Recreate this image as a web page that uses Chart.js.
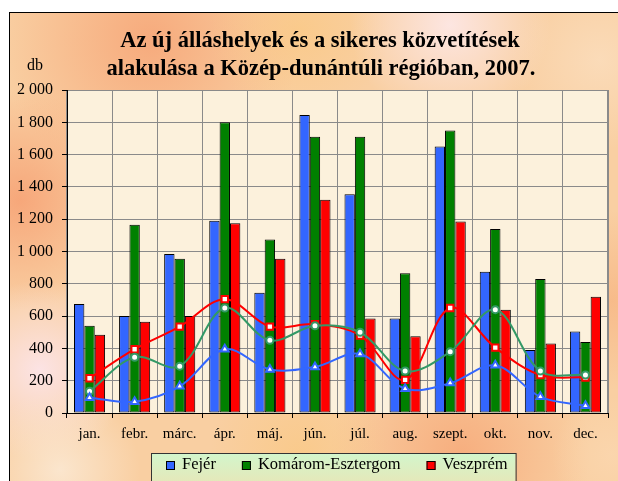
<!DOCTYPE html>
<html lang="hu">
<head>
<meta charset="utf-8">
<title>Az új álláshelyek és a sikeres közvetítések, 2007</title>
<script src="https://cdn.jsdelivr.net/npm/chart.js@4/dist/chart.umd.min.js"></script>
<style>
  html, body { margin: 0; padding: 0; background: #fff; }
  canvas { display: block; }
</style>
</head>
<body>
<canvas id="myChart" width="618" height="481"></canvas>
<script>
  // chart data
  const months = ['jan.', 'febr.', 'márc.', 'ápr.', 'máj.', 'jún.', 'júl.', 'aug.', 'szept.', 'okt.', 'nov.', 'dec.'];

  // new vacancies (bars)
  const fejer = [675, 600, 985, 1190, 745, 1845, 1355, 585, 1650, 875, 390, 505];
  const komarom = [540, 1165, 955, 1800, 1075, 1710, 1710, 865, 1750, 1140, 830, 440];
  const veszprem = [485, 565, 600, 1175, 955, 1320, 585, 475, 1185, 640, 430, 720];

  // successful placements (lines)
  const fejerLine = [95, 70, 165, 395, 270, 285, 365, 150, 185, 295, 100, 45];
  const komaromLine = [135, 345, 290, 650, 450, 540, 500, 260, 380, 640, 260, 235];
  const veszpremLine = [215, 395, 535, 705, 535, 550, 480, 205, 650, 405, 235, 220];

  const titleLines = ['Az új álláshelyek és a sikeres közvetítések', 'alakulása a Közép-dunántúli régióban, 2007.'];
  const unitLabel = 'db';

  const SERIF = "'Liberation Serif', 'Times New Roman', serif";

  // thousands with a space: 2 000
  const fmt = (v) => v >= 1000 ? Math.floor(v / 1000) + ' ' + String(v % 1000).padStart(3, '0') : String(v);

  /**
   * Background: textured frame, plot area, title, unit label
   */
  const backdrop = {
    id: 'backdrop',
    beforeDraw(chart) {
      const ctx = chart.ctx;
      const W = chart.width, H = chart.height;
      const area = chart.chartArea;
      ctx.save();
      ctx.fillStyle = '#ffffff';
      ctx.fillRect(0, 0, W, H);

      // warm frame fill
      const fx = 9, fy = 12;
      ctx.fillStyle = '#f9cfa2';
      ctx.fillRect(fx, fy, W - fx, H - fy);
      const blobs = [
        [150, 40, 150, 'rgba(246,164,118,0.85)'],
        [300, 30, 90, 'rgba(250,200,130,0.7)'],
        [450, 25, 100, 'rgba(253,232,232,0.9)'],
        [600, 60, 90, 'rgba(251,222,190,0.8)'],
        [20, 200, 110, 'rgba(246,160,115,0.85)'],
        [40, 370, 90, 'rgba(252,228,232,0.95)'],
        [60, 470, 80, 'rgba(251,232,210,0.9)'],
        [460, 455, 130, 'rgba(246,168,120,0.85)'],
        [300, 455, 90, 'rgba(250,200,130,0.7)'],
        [612, 300, 90, 'rgba(247,182,132,0.8)'],
        [612, 455, 60, 'rgba(251,215,175,0.8)']
      ];
      blobs.forEach(([x, y, r, c]) => {
        const g = ctx.createRadialGradient(x, y, 0, x, y, r);
        g.addColorStop(0, c);
        g.addColorStop(1, c.replace(/[\d.]+\)$/, '0)'));
        ctx.fillStyle = g;
        ctx.fillRect(fx, fy, W - fx, H - fy);
      });
      ctx.strokeStyle = '#000';
      ctx.lineWidth = 1;
      ctx.strokeRect(fx + 0.5, fy + 0.5, W + 10, H + 10);

      // plot area
      ctx.fillStyle = '#fcf1dc';
      ctx.fillRect(area.left, area.top, area.right - area.left, area.bottom - area.top);

      // title and unit label
      ctx.fillStyle = '#000';
      ctx.textAlign = 'center';
      ctx.textBaseline = 'middle';
      ctx.font = 'bold 22.5px ' + SERIF;
      ctx.fillText(titleLines[0], 320, 41);
      ctx.fillText(titleLines[1], 321, 69);
      ctx.font = '16px ' + SERIF;
      ctx.fillText(unitLabel, 35, 66);
      ctx.restore();
    },
    beforeDatasetsDraw(chart) {
      const ctx = chart.ctx;
      const a = chart.chartArea;
      ctx.save();
      ctx.strokeStyle = '#8a8a8a';
      ctx.lineWidth = 2;
      ctx.beginPath();
      ctx.moveTo(a.right, a.top);
      ctx.lineTo(a.right, a.bottom);
      ctx.stroke();
      ctx.restore();
    }
  };

  /**
   * Boxed legend under the axis, built from the bar datasets
   */
  const boxLegend = {
    id: 'boxLegend',
    afterDraw(chart) {
      const ctx = chart.ctx;
      const H = chart.height;
      const bars = chart.data.datasets.filter((d) => d.type === 'bar');
      const x0 = 151, y0 = 453, cy = 465;
      ctx.save();
      ctx.font = '16.5px ' + SERIF;
      let x = x0 + 15;
      const items = bars.map((d) => {
        const it = {x: x, d: d};
        x += 16 + ctx.measureText(d.label).width + 26;
        return it;
      });
      const x1 = x - 26 + 8;
      const g = ctx.createLinearGradient(0, y0, 0, H);
      g.addColorStop(0, '#d2f6cc');
      g.addColorStop(1, '#e4e8ba');
      ctx.fillStyle = g;
      ctx.fillRect(x0, y0, x1 - x0, H - y0 + 5);
      ctx.strokeStyle = '#333';
      ctx.lineWidth = 1;
      ctx.strokeRect(x0 + 0.5, y0 + 0.5, x1 - x0, H - y0 + 5);
      ctx.textAlign = 'left';
      ctx.textBaseline = 'middle';
      items.forEach((it) => {
        ctx.fillStyle = it.d.backgroundColor;
        ctx.fillRect(it.x, cy - 4, 9, 9);
        ctx.strokeStyle = '#000';
        ctx.strokeRect(it.x + 0.5, cy - 3.5, 8, 8);
        ctx.fillStyle = '#000';
        ctx.fillText(it.d.label, it.x + 16, cy);
      });
      ctx.restore();
    }
  };

  const barSet = (label, data, color) => ({
    type: 'bar',
    label: label,
    data: data,
    backgroundColor: color,
    borderColor: '#000',
    borderWidth: 1,
    borderSkipped: false,
    categoryPercentage: 0.69,
    barPercentage: 1,
    order: 2
  });

  const lineSet = (label, data, color, style, radius) => ({
    type: 'line',
    label: label,
    data: data,
    borderColor: color,
    borderWidth: 2,
    tension: 0.35,
    pointStyle: style,
    pointRadius: radius,
    pointBackgroundColor: '#fff',
    pointBorderColor: color,
    pointBorderWidth: 2,
    fill: false,
    order: 1
  });

  const ctx = document.getElementById('myChart');
  new Chart(ctx, {
    data: {
      labels: months,
      datasets: [
        barSet('Fejér', fejer, '#3366ff'),
        barSet('Komárom-Esztergom', komarom, '#008000'),
        barSet('Veszprém', veszprem, '#ff0000'),
        lineSet('Fejér (közvetítés)', fejerLine, '#3366ff', 'triangle', 4.5),
        lineSet('Komárom-Esztergom (közvetítés)', komaromLine, '#339966', 'circle', 3.5),
        lineSet('Veszprém (közvetítés)', veszpremLine, '#ff0000', 'rect', 4.5)
      ]
    },
    options: {
      responsive: false,
      devicePixelRatio: 1,
      animation: false,
      layout: { padding: { left: 9, right: 10, top: 90, bottom: 38 } },
      plugins: {
        title: { display: false },
        legend: { display: false },
        tooltip: { enabled: false }
      },
      scales: {
        x: {
          grid: { color: '#8a8a8a', tickColor: '#000', tickLength: 5, offset: true },
          border: { color: '#000', width: 1 },
          ticks: { color: '#000', padding: 7, font: { family: SERIF, size: 15 } },
          afterFit: (scale) => { scale.height = 30; }
        },
        y: {
          min: 0,
          max: 2000,
          grid: { color: '#8a8a8a', tickColor: '#000', tickLength: 5 },
          border: { color: '#000', width: 1 },
          ticks: {
            stepSize: 200,
            color: '#000',
            padding: 9,
            font: { family: SERIF, size: 16 },
            callback: (v) => fmt(v)
          },
          afterFit: (scale) => { scale.width = 58; }
        }
      }
    },
    plugins: [backdrop, boxLegend]
  });
</script>
</body>
</html>
